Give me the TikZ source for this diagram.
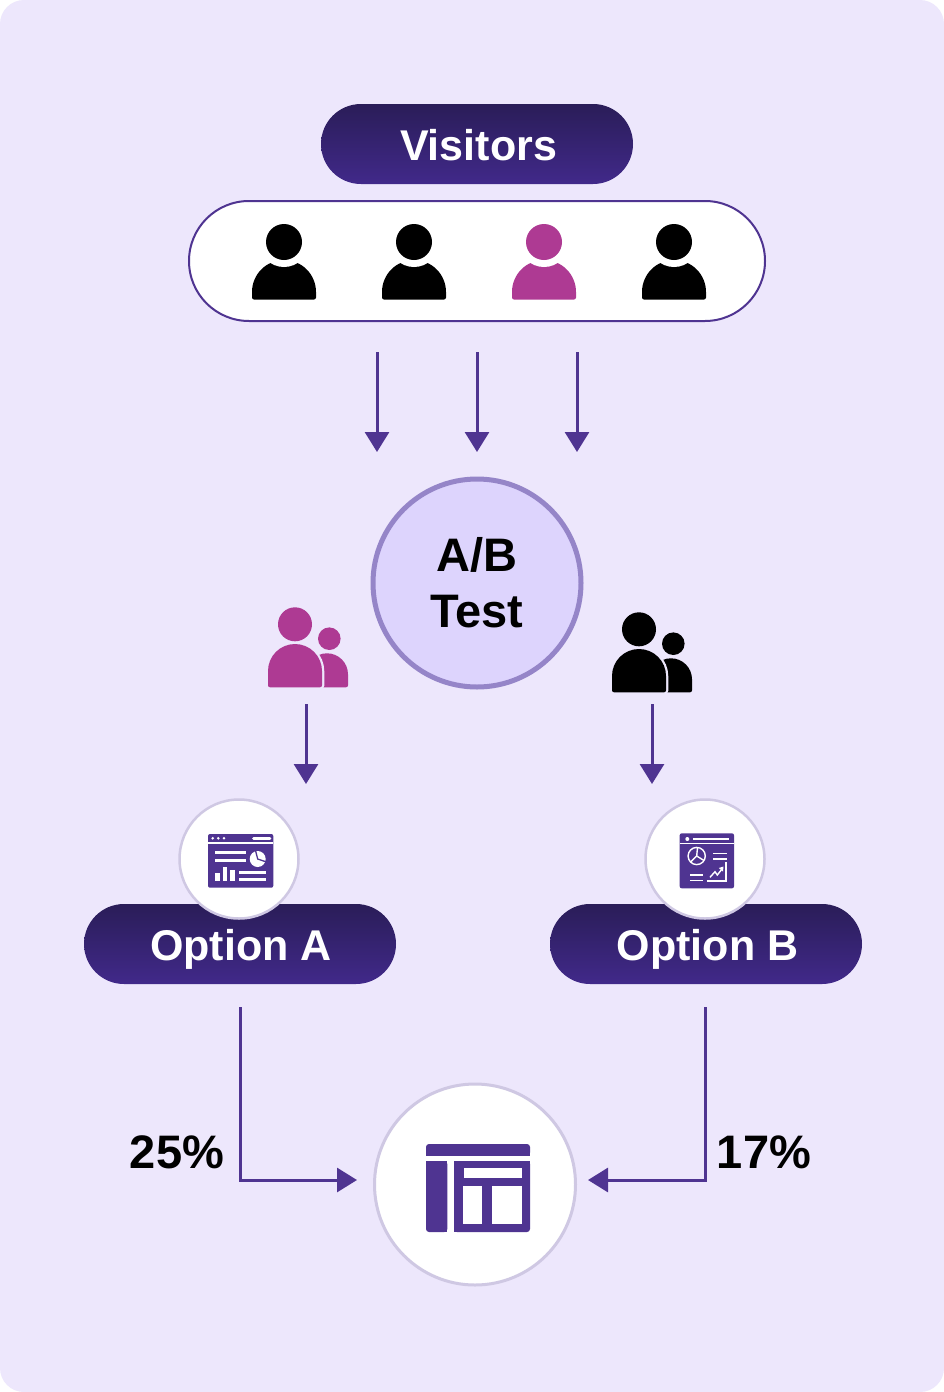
\documentclass[tikz,border=0pt]{standalone}
\usepackage{fontspec}
\setmainfont{Liberation Sans}
\usetikzlibrary{arrows.meta}
\definecolor{bgc}{HTML}{EDE7FC}
\definecolor{pur}{HTML}{4F3491}
\definecolor{pinkc}{HTML}{AE3A93}
\definecolor{ringc}{HTML}{CFC8E3}
\definecolor{abfill}{HTML}{DDD4FD}
\definecolor{abring}{HTML}{9585C8}
\definecolor{gtop}{HTML}{2A1D58}
\definecolor{gbot}{HTML}{41298A}
\newcommand{\domepath}[4]{({#1-#3},#2) .. controls ({#1-#3},{#2-.5523*#3}) and ({#1-.5523*#3},{#2-#3}) .. (#1,{#2-#3}) .. controls ({#1+.5523*#3},{#2-#3}) and ({#1+#3},{#2-.5523*#3}) .. ({#1+#3},#2) -- ({#1+#3},{#4-2}) .. controls ({#1+#3},{#4-.9}) and ({#1+#3-.9},#4) .. ({#1+#3-2},#4) -- ({#1-#3+2},#4) .. controls ({#1-#3+.9},#4) and ({#1-#3},{#4-.9}) .. ({#1-#3},{#4-2}) -- cycle}
\newcommand{\person}[2]{%
  \fill[#2] \domepath{#1}{292}{32}{299.5};
  \fill[white] (#1,242) circle (25);
  \fill[#2] (#1,242) circle (18);}
\newcommand{\group}[3]{%
  \begin{scope}[shift={(#1,#2)}]
  \fill[#3] (329.3,638.7) circle (11.3);
  \fill[#3] \domepath{327}{674.3}{21}{687.3};
  \path[fill=#3,preaction={draw=bgc,line width=4.5pt}] \domepath{295}{671}{27}{687.3};
  \fill[#3] (295,624.3) circle (17);
  \end{scope}}
\tikzset{
  pill/.style={minimum width=312pt,minimum height=80pt,rounded corners=40pt,top color=gtop,bottom color=gbot,text=white,inner sep=0pt,text height=32pt,text depth=0pt,font=\fontsize{43}{50}\selectfont\bfseries},
  ring/.style={circle,fill=white,draw=ringc,inner sep=0pt},
  flow/.style={draw=pur,line width=3pt,-{Triangle[width=24pt,length=20pt]}},
  numlab/.style={font=\fontsize{47}{54}\selectfont\bfseries,text=black,inner sep=0pt},
  thinw/.style={draw=white,line width=2.6pt},
  hair/.style={draw=white,line width=1.4pt}
}
\begin{document}
\begin{tikzpicture}[x=1pt,y=-1pt]
\useasboundingbox (0,0) rectangle (944,1392);
\fill[white] (0,0) rectangle (944,1392);
\fill[bgc,rounded corners=24pt] (0,0) rectangle (944,1392);
% top
\node[pill] (visitors) at (477,144) {\hspace*{3pt}Visitors};
\node[draw=pur,line width=2pt,fill=white,minimum width=576pt,minimum height=120pt,rounded corners=60pt,inner sep=0pt] (crowd) at (477,261) {};
\person{284}{black}
\person{414}{black}
\person{544}{pinkc}
\person{674}{black}
% arrows into test
\node[circle,fill=abfill,draw=abring,line width=5pt,minimum size=208pt,inner sep=0pt,align=center,font=\fontsize{47}{56}\selectfont\bfseries] (abtest) at (477,583) {A/B\\Test};
\coordinate (a1s) at (377,352); \coordinate (a1e) at (377,452);
\coordinate (a2s) at (477,352); \coordinate (a2e) at (477,452);
\coordinate (a3s) at (577,352); \coordinate (a3e) at (577,452);
\draw[flow] (a1s) -- (a1e);
\draw[flow] (a2s) -- (a2e);
\draw[flow] (a3s) -- (a3e);
% groups
\group{0}{0}{pinkc}
\group{344}{5}{black}
\coordinate (gas) at (306,704); \coordinate (gae) at (306,784);
\coordinate (gbs) at (652,704); \coordinate (gbe) at (652,784);
\draw[flow] (gas) -- (gae);
\draw[flow] (gbs) -- (gbe);
% options
\node[pill] (opta) at (240,944) {\hspace*{2pt}Option A};
\node[pill] (optb) at (706,944) {\hspace*{3pt}Option B};
\node[ring,line width=2.5pt,minimum size=119pt] (icona) at (239,859) {};
\node[ring,line width=2.5pt,minimum size=119pt] (iconb) at (705,859) {};
% icon A
\fill[pur,rounded corners=2pt] (208,834) rectangle (273.3,887.7);
\draw[hair] (208,842.8) -- (273.3,842.8);
\foreach \x in {212.7,218.3,224} \fill[white] (\x,838.3) circle (1.4);
\draw[thinw,line cap=round] (253.5,838.3) -- (270,838.3);
\draw[thinw] (215.3,852.7) -- (246,852.7);
\draw[thinw] (215.3,860.7) -- (246,860.7);
\fill[white] (257.7,859) circle (8);
\draw[pur,line width=1.3pt] (255.5,850.5) -- (257.7,859) -- (266.5,862);
\fill[white] (215.3,872.7) rectangle (220,881.3);
\fill[white] (222.7,867.3) rectangle (227.3,881.3);
\fill[white] (230,870) rectangle (234.7,881.3);
\draw[thinw] (239.3,872.7) -- (266,872.7);
\draw[thinw] (239.3,879.6) -- (266,879.6);
% icon B
\fill[pur,rounded corners=2pt] (679.7,833.3) rectangle (734,888.3);
\draw[hair] (679.7,843.6) -- (734,843.6);
\fill[white] (687.3,839) circle (2);
\draw[hair] (693.3,839) -- (729.3,839);
\draw[hair] (696.7,856) circle (8.6);
\draw[hair] (697.5,847.5) -- (696.7,856) -- (704,860.5);
\draw[hair] (696.7,856) -- (690.5,862);
\draw[hair] (713.3,853.3) -- (726.7,853.3);
\draw[hair] (713.3,859) -- (726.7,859);
\draw[hair] (690,875) -- (703.3,875);
\draw[hair] (690,880.3) -- (703.3,880.3);
\draw[hair] (706.7,881) -- (726,881) -- (726,861.7);
\draw[hair] (710,877.3) -- (715,871.7) -- (717.3,875) -- (722,869);
\fill[white] (723.5,866.5) -- (718.8,868) -- (723,871.5) -- cycle;
% result
\node[ring,line width=3pt,minimum size=201pt] (result) at (475,1184.5) {};
\fill[pur,rounded corners=3pt] (426,1155.7) -- (426,1144) -- (530,1144) -- (530,1155.7) [sharp corners] -- cycle;
\fill[pur] (426,1150) rectangle (530,1155.7);
\fill[pur,rounded corners=3pt] (426,1161) -- (447.3,1161) -- (447.3,1232) -- (426,1232) -- cycle;
\fill[pur] (426,1161) rectangle (447.3,1170);
\fill[pur] (436,1170) rectangle (447.3,1232);
\fill[pur,rounded corners=3pt] (454,1161) -- (530,1161) -- (530,1232) -- (454,1232) -- cycle;
\fill[pur] (454,1161) rectangle (530,1170);
\fill[pur] (454,1170) rectangle (500,1232);
\fill[white] (464,1168) rectangle (522,1178);
\fill[white] (463.3,1186) rectangle (481.7,1224);
\fill[white] (491.7,1186) rectangle (522,1224);
% elbows
\coordinate (ras) at (240,1007); \coordinate (rae) at (357,1180);
\coordinate (rbs) at (705,1007); \coordinate (rbe) at (588,1180);
\draw[flow] (ras) |- (rae);
\draw[flow] (rbs) |- (rbe);
\node[numlab] (pa) at (177,1152) {25\%};
\node[numlab] (pb) at (764,1152) {17\%};
\end{tikzpicture}
\end{document}
